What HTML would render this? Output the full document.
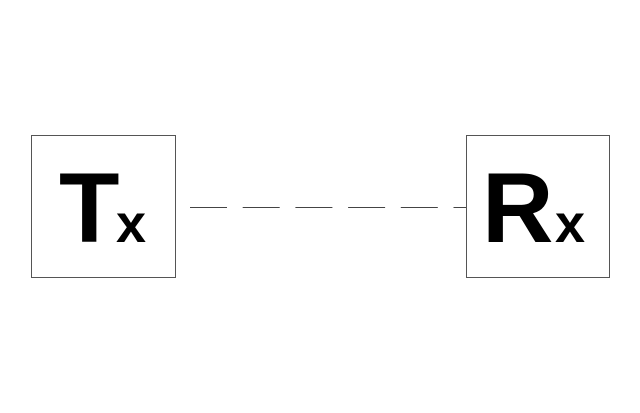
<!DOCTYPE html>
<html><head><style>
html,body{margin:0;padding:0;background:#fff;}
</style></head><body>
<svg width="640" height="413" xmlns="http://www.w3.org/2000/svg" style="display:block">
<rect x="31.5" y="135.5" width="144" height="142" fill="#fff" stroke="#555" stroke-width="1"/>
<rect x="466.5" y="135.5" width="143" height="142" fill="#fff" stroke="#555" stroke-width="1"/>
<line x1="190" y1="207.5" x2="466" y2="207.5" stroke="#444" stroke-width="1" stroke-dasharray="37 15.7"/>
<text x="59" y="242" font-family="Liberation Sans, sans-serif" font-weight="bold" font-size="99">T</text>
<text x="116" y="242" font-family="Liberation Sans, sans-serif" font-weight="bold" font-size="54">x</text>
<text x="482" y="242" font-family="Liberation Sans, sans-serif" font-weight="bold" font-size="99">R</text>
<text x="555" y="242" font-family="Liberation Sans, sans-serif" font-weight="bold" font-size="54">x</text>
</svg>
</body></html>
